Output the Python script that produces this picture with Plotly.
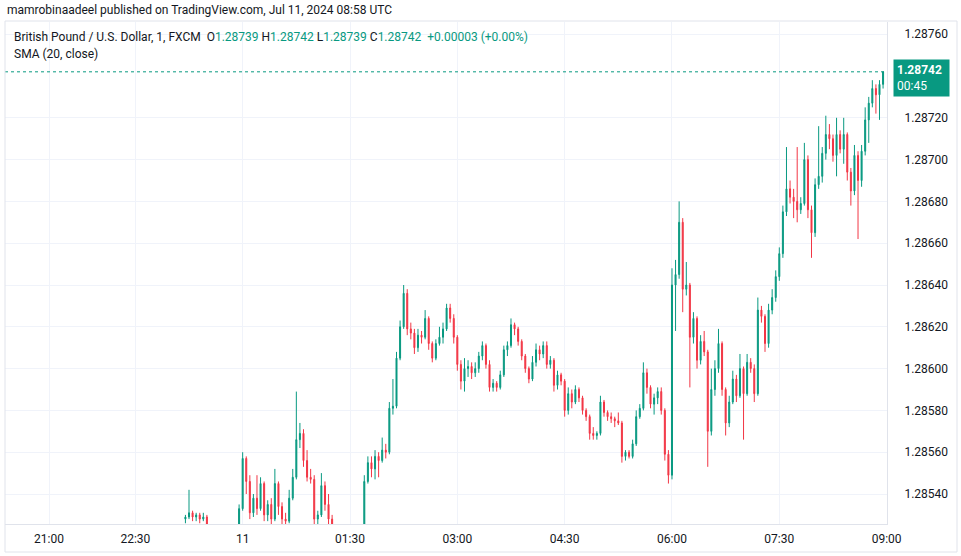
import pandas as pd
import plotly.graph_objects as go

# ---------------- data ----------------
title_text = "mamrobinaadeel published on TradingView.com, Jul 11, 2024 08:58 UTC"
symbol_text = "British Pound / U.S. Dollar, 1, FXCM"
ohlc_labels = ["O", "H", "L", "C"]
ohlc_values = ["1.28739", "1.28742", "1.28739", "1.28742"]
change_text = "+0.00003 (+0.00%)"
indicator_text = "SMA (20, close)"
last_price = 1.28742
countdown = "00:45"

first_bar = "2024-07-10 23:12"
bar_minutes = 3
open0 = 1.28528

close = [
    1.28529, 1.28531, 1.28529, 1.28530, 1.28528, 1.28529, 1.28522, None, None, None,
    None, None, None, None, None, 1.28533, 1.28557, 1.28546, 1.28531, 1.28538,
    1.28533, 1.28545, 1.28530, 1.28535, 1.28528, 1.28545, 1.28534, 1.28528, 1.28527, 1.28538,
    1.28548, 1.28566, 1.28569, 1.28556, 1.28548, 1.28547, 1.28528, 1.28530, 1.28544, 1.28535,
    1.28528, 1.28520, None, None, None, None, None, None, None, None,
    1.28546, 1.28555, 1.28552, 1.28558, 1.28556, 1.28561, 1.28560, 1.28581, 1.28582, 1.28605,
    1.28620, 1.28636, 1.28619, 1.28617, 1.28610, 1.28616, 1.28615, 1.28624, 1.28612, 1.28605,
    1.28612, 1.28615, 1.28619, 1.28629, 1.28624, 1.28615, 1.28602, 1.28594, 1.28600, 1.28601,
    1.28598, 1.28600, 1.28606, 1.28611, 1.28602, 1.28591, 1.28593, 1.28591, 1.28597, 1.28609,
    1.28611, 1.28621, 1.28619, 1.28613, 1.28606, 1.28600, 1.28595, 1.28603, 1.28609, 1.28607,
    1.28611, 1.28602, 1.28604, 1.28592, 1.28597, 1.28594, 1.28580, 1.28588, 1.28584, 1.28590,
    1.28586, 1.28580, 1.28577, 1.28569, 1.28568, 1.28569, 1.28584, 1.28579, 1.28577, 1.28576,
    1.28575, 1.28574, 1.28558, 1.28560, 1.28558, 1.28564, 1.28577, 1.28581, 1.28598, 1.28591,
    1.28583, 1.28586, 1.28589, 1.28580, 1.28559, 1.28549, 1.28640, 1.28645, 1.28670, 1.28638,
    1.28640, 1.28615, 1.28624, 1.28604, 1.28613, 1.28608, 1.28570, 1.28590, 1.28600, 1.28612,
    1.28590, 1.28574, 1.28584, 1.28595, 1.28587, 1.28600, 1.28588, 1.28603, 1.28600, 1.28588,
    1.28628, 1.28625, 1.28612, 1.28628, 1.28634, 1.28644, 1.28655, 1.28675, 1.28686, 1.28682,
    1.28680, 1.28676, 1.28679, 1.28700, 1.28676, 1.28665, 1.28688, 1.28692, 1.28703, 1.28712,
    1.28710, 1.28702, 1.28712, 1.28705, 1.28712, 1.28694, 1.28685, 1.28702, 1.28690, 1.28704,
    1.28719, 1.28727, 1.28734, 1.28731, 1.28736, 1.28742,
]

high = [
    1.28530, 1.28542, 1.28532, 1.28531, 1.28531, 1.28531, 1.28530, None, None, None,
    None, None, None, None, None, 1.28535, 1.28560, 1.28558, 1.28549, 1.28540,
    1.28549, 1.28548, 1.28546, 1.28537, 1.28538, 1.28552, 1.28546, 1.28536, 1.28531, 1.28542,
    1.28552, 1.28589, 1.28574, 1.28571, 1.28561, 1.28552, 1.28549, 1.28532, 1.28550, 1.28546,
    1.28540, 1.28530, None, None, None, None, None, None, None, None,
    1.28549, 1.28558, 1.28558, 1.28561, 1.28560, 1.28567, 1.28564, 1.28584, 1.28595, 1.28608,
    1.28623, 1.28640, 1.28638, 1.28622, 1.28619, 1.28619, 1.28618, 1.28628, 1.28625, 1.28613,
    1.28614, 1.28620, 1.28622, 1.28631, 1.28631, 1.28626, 1.28616, 1.28604, 1.28605, 1.28604,
    1.28603, 1.28603, 1.28608, 1.28613, 1.28612, 1.28604, 1.28595, 1.28594, 1.28599, 1.28611,
    1.28613, 1.28624, 1.28622, 1.28620, 1.28614, 1.28607, 1.28601, 1.28606, 1.28612, 1.28611,
    1.28613, 1.28613, 1.28606, 1.28605, 1.28599, 1.28598, 1.28595, 1.28591, 1.28590, 1.28592,
    1.28591, 1.28587, 1.28581, 1.28578, 1.28572, 1.28570, 1.28587, 1.28585, 1.28580, 1.28579,
    1.28577, 1.28579, 1.28575, 1.28561, 1.28561, 1.28566, 1.28580, 1.28583, 1.28603, 1.28600,
    1.28592, 1.28588, 1.28591, 1.28591, 1.28581, 1.28561, 1.28648, 1.28652, 1.28680, 1.28672,
    1.28651, 1.28641, 1.28627, 1.28625, 1.28616, 1.28618, 1.28609, 1.28600, 1.28604, 1.28619,
    1.28613, 1.28591, 1.28587, 1.28599, 1.28597, 1.28607, 1.28601, 1.28607, 1.28605, 1.28602,
    1.28634, 1.28630, 1.28626, 1.28631, 1.28638, 1.28647, 1.28658, 1.28678, 1.28706, 1.28690,
    1.28686, 1.28706, 1.28682, 1.28708, 1.28702, 1.28678, 1.28691, 1.28716, 1.28706, 1.28721,
    1.28717, 1.28712, 1.28720, 1.28714, 1.28720, 1.28713, 1.28696, 1.28707, 1.28704, 1.28707,
    1.28725, 1.28730, 1.28738, 1.28736, 1.28738, 1.28742,
]

low = [
    1.28526, 1.28528, 1.28527, 1.28527, 1.28526, 1.28527, 1.28520, None, None, None,
    None, None, None, None, None, 1.28518, 1.28532, 1.28540, 1.28528, 1.28529,
    1.28530, 1.28532, 1.28527, 1.28527, 1.28525, 1.28527, 1.28530, 1.28525, 1.28525, 1.28526,
    1.28537, 1.28547, 1.28562, 1.28553, 1.28546, 1.28545, 1.28524, 1.28524, 1.28529, 1.28532,
    1.28525, 1.28518, None, None, None, None, None, None, None, None,
    1.28518, 1.28545, 1.28548, 1.28547, 1.28548, 1.28555, 1.28557, 1.28559, 1.28578, 1.28581,
    1.28604, 1.28619, 1.28616, 1.28614, 1.28607, 1.28608, 1.28612, 1.28614, 1.28609, 1.28603,
    1.28604, 1.28611, 1.28612, 1.28618, 1.28622, 1.28612, 1.28599, 1.28590, 1.28589, 1.28596,
    1.28595, 1.28596, 1.28598, 1.28604, 1.28600, 1.28589, 1.28589, 1.28589, 1.28590, 1.28596,
    1.28606, 1.28610, 1.28616, 1.28611, 1.28604, 1.28598, 1.28593, 1.28594, 1.28601, 1.28604,
    1.28605, 1.28600, 1.28600, 1.28589, 1.28590, 1.28592, 1.28577, 1.28578, 1.28581, 1.28583,
    1.28584, 1.28578, 1.28575, 1.28566, 1.28566, 1.28566, 1.28568, 1.28577, 1.28575, 1.28574,
    1.28572, 1.28573, 1.28555, 1.28556, 1.28557, 1.28557, 1.28563, 1.28576, 1.28580, 1.28588,
    1.28581, 1.28578, 1.28583, 1.28578, 1.28556, 1.28545, 1.28547, 1.28618, 1.28643, 1.28627,
    1.28635, 1.28591, 1.28612, 1.28600, 1.28602, 1.28606, 1.28553, 1.28568, 1.28587, 1.28598,
    1.28587, 1.28568, 1.28572, 1.28583, 1.28584, 1.28586, 1.28566, 1.28587, 1.28598, 1.28584,
    1.28587, 1.28622, 1.28608, 1.28610, 1.28626, 1.28632, 1.28642, 1.28653, 1.28673, 1.28679,
    1.28672, 1.28670, 1.28674, 1.28678, 1.28672, 1.28653, 1.28663, 1.28686, 1.28689, 1.28700,
    1.28705, 1.28699, 1.28692, 1.28703, 1.28698, 1.28690, 1.28678, 1.28683, 1.28662, 1.28687,
    1.28702, 1.28708, 1.28725, 1.28722, 1.28719, 1.28734,
]

price_ticks = [1.28540, 1.28560, 1.28580, 1.28600, 1.28620, 1.28640,
               1.28660, 1.28680, 1.28700, 1.28720, 1.28760]
time_ticks = ["2024-07-10 21:00", "2024-07-10 22:30", "2024-07-11 00:00",
              "2024-07-11 01:30", "2024-07-11 03:00", "2024-07-11 04:30",
              "2024-07-11 06:00", "2024-07-11 07:30", "2024-07-11 09:00"]
time_labels = ["21:00", "22:30", "11", "01:30", "03:00", "04:30", "06:00", "07:30", "09:00"]

# ---------------- build ----------------
n = len(close)
assert len(high) == n and len(low) == n
times = pd.date_range(first_bar, periods=n, freq=f"{bar_minutes}min")
c = pd.Series(close, dtype="float64")
o = c.ffill().shift(1)
o.iloc[0] = open0
o[c.isna()] = float("nan")

UP = "#089981"
DOWN = "#f23645"
TXT = "#131722"
GRID = "#f0f3fa"
LINE = "#e0e3eb"
FONT = "Roboto"

# plot area in page pixels
L, R, T, B = 5, 887, 22, 524
W, H = 961, 556


def fx(px):
    return (px - L) / (R - L)


def fy(py):
    return (B - py) / (B - T)


def py_to_price(py):
    # 1.28540 sits at y=494, 0.00020 per 41.8 px
    return 1.28540 + (494 - py) / 41.8 * 0.0002


fig = go.Figure()
fig.add_trace(go.Candlestick(
    x=times, open=o, high=high, low=low, close=c,
    increasing=dict(line=dict(color=UP, width=1), fillcolor=UP),
    decreasing=dict(line=dict(color=DOWN, width=1), fillcolor=DOWN),
    whiskerwidth=0, showlegend=False, hoverinfo="skip",
))

fig.update_layout(
    width=W, height=H,
    margin=dict(l=L, r=W - R, t=T, b=H - B),
    paper_bgcolor="white", plot_bgcolor="white",
    font=dict(family=FONT, size=12, color=TXT),
    showlegend=False,
    boxgap=0.6,
)

fig.update_xaxes(
    type="date",
    range=["2024-07-10 20:23:06", "2024-07-11 09:00:18"],
    rangebreaks=[dict(bounds=["2024-07-10 21:01", "2024-07-10 21:18:36"])],
    rangeslider=dict(visible=False),
    tickmode="array", tickvals=time_ticks, ticktext=time_labels,
    showgrid=True, gridcolor=GRID, gridwidth=1,
    showline=True, linecolor=LINE, linewidth=1,
    ticks="", zeroline=False,
    tickfont=dict(family=FONT, size=12, color=TXT),
    ticklabelstandoff=4,
)
fig.update_yaxes(
    side="right",
    range=[py_to_price(B), py_to_price(T)],
    tickmode="array", tickvals=price_ticks, tickformat=".5f",
    showgrid=True, gridcolor=GRID, gridwidth=1,
    showline=True, linecolor=LINE, linewidth=1,
    ticks="", zeroline=False,
    tickfont=dict(family=FONT, size=12, color=TXT),
    ticklabelstandoff=14,
)

# current price dotted line
fig.add_shape(type="line", xref="paper", yref="y", x0=0, x1=1,
              y0=last_price, y1=last_price,
              line=dict(color=UP, width=1, dash="dot"))

# outer frame
fig.add_shape(type="rect", xref="paper", yref="paper",
              x0=fx(5), x1=fx(957), y0=fy(552), y1=fy(21),
              line=dict(color=LINE, width=1), fillcolor="rgba(0,0,0,0)", layer="above")

# header
fig.add_annotation(xref="paper", yref="paper", x=fx(5), y=fy(10),
                   xanchor="left", yanchor="middle", showarrow=False,
                   text=title_text, font=dict(family=FONT, size=12, color=TXT))

legend_parts = [symbol_text, "&nbsp;"]
for lab, val in zip(ohlc_labels, ohlc_values):
    legend_parts.append(f"&nbsp;{lab}<span style='color:{UP}'>{val}</span>")
legend_parts.append(f"&nbsp;&nbsp;<span style='color:{UP}'>{change_text}</span>")
fig.add_annotation(xref="paper", yref="paper", x=fx(12), y=fy(37),
                   xanchor="left", yanchor="middle", showarrow=False,
                   text="".join(legend_parts), font=dict(family=FONT, size=12, color=TXT))
fig.add_annotation(xref="paper", yref="paper", x=fx(12), y=fy(54),
                   xanchor="left", yanchor="middle", showarrow=False,
                   text=indicator_text, font=dict(family=FONT, size=12, color=TXT))

# last price label
fig.add_annotation(xref="paper", yref="paper", x=fx(893), y=fy(78),
                   xanchor="left", yanchor="middle", showarrow=False,
                   text=f"<b>{last_price:.5f}</b><br>{countdown}", align="left",
                   bgcolor=UP, borderpad=3, width=49,
                   font=dict(family=FONT, size=12, color="white"))

fig.write_html("out.html")
